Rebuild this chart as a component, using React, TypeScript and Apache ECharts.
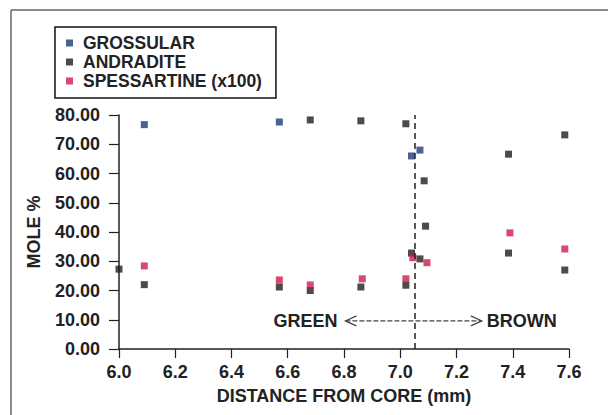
import React, { useEffect, useRef } from "react";
import * as echarts from "echarts";

const seriesNames = ["GROSSULAR", "ANDRADITE", "SPESSARTINE (x100)"];

const grossularX = [6.09, 6.57, 7.04, 7.07];
const grossularY = [76.7, 77.6, 66.0, 68.0];

const andraditeX = [6.0, 6.09, 6.57, 6.68, 6.68, 6.86, 6.86, 7.02, 7.02, 7.04, 7.07, 7.085, 7.09, 7.385, 7.385, 7.585, 7.585];
const andraditeY = [27.3, 22.0, 21.2, 78.3, 20.0, 78.0, 21.2, 77.0, 21.8, 32.8, 30.8, 57.5, 42.0, 66.6, 32.8, 73.2, 27.0];

const spessartineX = [6.09, 6.57, 6.68, 6.865, 7.02, 7.045, 7.095, 7.39, 7.585];
const spessartineY = [28.4, 23.6, 21.9, 24.0, 24.0, 31.2, 29.5, 39.7, 34.2];

const boundaryX = 7.053;
const annotationY = 9.6;
const arrowFromX = 6.805;
const arrowToX = 7.29;
const greenLabel = "GREEN";
const brownLabel = "BROWN";

const xAxisTitle = "DISTANCE FROM CORE (mm)";
const yAxisTitle = "MOLE %";

const colors = ["#1d3a78", "#1e1e1e", "#d01a48"];
const FONT = "'Liberation Sans', Arial, Helvetica, sans-serif";
const TXT = "#222";

function pts(xs: number[], ys: number[]) {
  return xs.map((x, i) => [x, ys[i]]);
}

export default function App() {
  const ref = useRef<HTMLDivElement>(null);
  useEffect(() => {
    if (!ref.current) return;
    const chart = echarts.init(ref.current, null, { renderer: "svg" });
    const textStyle = { fontFamily: FONT, fontWeight: "bold" as const, fontSize: 18, color: TXT };
    chart.setOption({
      animation: false,
      backgroundColor: "#fff",
      grid: { left: 119, right: 39, top: 115, bottom: 66 },
      legend: {
        orient: "vertical",
        left: 55,
        top: 27,
        data: seriesNames,
        icon: "rect",
        itemWidth: 7,
        itemHeight: 7,
        itemGap: 1,
        padding: [7, 14, 8, 11],
        borderColor: "#111",
        borderWidth: 1.5,
        borderRadius: 0,
        textStyle: { ...textStyle, fontSize: 17.5, lineHeight: 17, padding: [0, 0, 0, 5] },
      },
      xAxis: {
        type: "value",
        min: 6.0,
        max: 7.6,
        interval: 0.2,
        name: xAxisTitle,
        nameLocation: "middle",
        nameGap: 38,
        nameTextStyle: textStyle,
        axisLine: { show: true, onZero: false, lineStyle: { color: TXT, width: 1.5 } },
        axisTick: { show: true, length: 9, lineStyle: { color: TXT, width: 1.2 } },
        axisLabel: { ...textStyle, margin: 14, formatter: (v: number) => v.toFixed(1) },
        splitLine: { show: false },
      },
      yAxis: {
        type: "value",
        min: 0,
        max: 80,
        interval: 10,
        name: yAxisTitle,
        nameLocation: "middle",
        nameGap: 76,
        nameTextStyle: textStyle,
        axisLine: { show: true, lineStyle: { color: TXT, width: 1.5 } },
        axisTick: { show: true, length: 10, lineStyle: { color: TXT, width: 1.2 } },
        axisLabel: { ...textStyle, margin: 19, formatter: (v: number) => v.toFixed(2) },
        splitLine: { show: false },
      },
      series: [
        {
          name: seriesNames[0],
          type: "scatter",
          symbol: "rect",
          symbolSize: 7,
          itemStyle: { color: colors[0] },
          data: pts(grossularX, grossularY),
        },
        {
          name: seriesNames[1],
          type: "scatter",
          symbol: "rect",
          symbolSize: 7,
          itemStyle: { color: colors[1] },
          data: pts(andraditeX, andraditeY),
        },
        {
          name: seriesNames[2],
          type: "scatter",
          symbol: "rect",
          symbolSize: 7,
          itemStyle: { color: colors[2] },
          data: pts(spessartineX, spessartineY),
          markLine: {
            silent: true,
            symbol: ["none", "none"],
            label: { show: false },
            lineStyle: { color: "#222", width: 1.5, type: [6, 4] },
            data: [{ xAxis: boundaryX }],
          },
        },
      ],
    });

    const a = chart.convertToPixel({ gridIndex: 0 }, [arrowFromX, annotationY]) as number[];
    const b = chart.convertToPixel({ gridIndex: 0 }, [arrowToX, annotationY]) as number[];
    const y = a[1];
    const lineStyle = { stroke: "#444", lineWidth: 1.2, fill: "none" };
    chart.setOption({
      graphic: [
        { type: "line", shape: { x1: 11, y1: 10, x2: 11, y2: 415 }, style: { stroke: "#666", lineWidth: 1.5 } },
        { type: "line", shape: { x1: 11, y1: 10, x2: 608, y2: 10 }, style: { stroke: "#666", lineWidth: 1.5 } },
        { type: "line", shape: { x1: a[0], y1: y, x2: b[0], y2: y }, style: { ...lineStyle, lineDash: [5, 2] } },
        { type: "polyline", shape: { points: [[a[0] + 11, y - 5], [a[0], y], [a[0] + 11, y + 5]] }, style: lineStyle },
        { type: "polyline", shape: { points: [[b[0] - 11, y - 5], [b[0], y], [b[0] - 11, y + 5]] }, style: lineStyle },
        {
          type: "text",
          x: a[0] - 8,
          y: y,
          style: { text: greenLabel, font: `bold 18px ${FONT}`, fill: TXT, align: "right", verticalAlign: "middle" },
        },
        {
          type: "text",
          x: b[0] + 5,
          y: y,
          style: { text: brownLabel, font: `bold 18px ${FONT}`, fill: TXT, align: "left", verticalAlign: "middle" },
        },
      ],
    });
    return () => chart.dispose();
  }, []);
  return (
    <div
      ref={ref}
      style={{ position: "fixed", left: 0, top: 0, width: 608, height: 415, background: "#fff" }}
    />
  );
}
